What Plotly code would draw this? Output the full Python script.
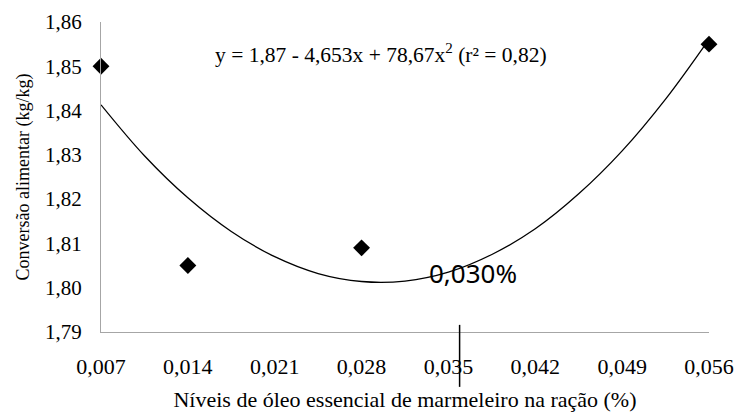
import plotly.graph_objects as go

# Observed means
x_levels = [0.007, 0.014, 0.028, 0.056]
y_means = [1.850, 1.805, 1.809, 1.855]

# Fitted trend curve
curve_x = [0.007, 0.0105, 0.014, 0.0175, 0.021, 0.0245, 0.028, 0.0315,
           0.035, 0.0385, 0.042, 0.0455, 0.049, 0.0525, 0.056]
curve_y = [1.8413, 1.8298, 1.8203, 1.8127, 1.8070, 1.8032, 1.8014, 1.8015,
           1.8035, 1.8075, 1.8133, 1.8212, 1.8309, 1.8426, 1.8561]

x_ticks = [0.007, 0.014, 0.021, 0.028, 0.035, 0.042, 0.049, 0.056]
x_tick_labels = ["0,007", "0,014", "0,021", "0,028", "0,035", "0,042", "0,049", "0,056"]
y_ticks = [1.79, 1.80, 1.81, 1.82, 1.83, 1.84, 1.85, 1.86]
y_tick_labels = ["1,79", "1,80", "1,81", "1,82", "1,83", "1,84", "1,85", "1,86"]

equation = "y = 1,87 - 4,653x + 78,67x<sup>2</sup> (r² = 0,82)"
optimum_label = "0,030%"

serif = "Liberation Serif"

fig = go.Figure()
fig.add_trace(go.Scatter(x=curve_x, y=curve_y, mode="lines",
                         line=dict(color="black", width=1.3, shape="spline"),
                         hoverinfo="skip", showlegend=False))
fig.add_trace(go.Scatter(x=x_levels, y=y_means, mode="markers",
                         marker=dict(symbol="diamond", size=13, color="black"),
                         cliponaxis=False, showlegend=False))

fig.add_annotation(x=0.0296, y=1.8530, xref="x", yref="y", text=equation,
                   showarrow=False, font=dict(family=serif, size=21.5, color="black"))
fig.add_annotation(x=0.0370, y=1.8033, xref="x", yref="y", text=optimum_label,
                   showarrow=False, font=dict(family="Noto Sans", size=26, color="black"))

fig.add_shape(type="line", xref="x", yref="paper", x0=0.0359, x1=0.0359,
              y0=-0.177, y1=0.023, line=dict(color="black", width=1.5))

fig.update_layout(
    template="none",
    width=736, height=415,
    margin=dict(l=101, r=27, t=22, b=83, autoexpand=False),
    plot_bgcolor="white", paper_bgcolor="white",
    font=dict(family=serif, size=22, color="black"),
    xaxis=dict(range=[0.007, 0.056], tickvals=x_ticks, ticktext=x_tick_labels,
               automargin=False,
               showgrid=False, zeroline=False, showline=True, linecolor="#a6a6a6",
               linewidth=1.3, ticks="", ticklen=0, ticklabelstandoff=14,
               tickfont=dict(family=serif, size=22, color="black"),
               title=dict(text="Níveis de óleo essencial de marmeleiro na ração (%)",
                          font=dict(family=serif, size=22, color="black"), standoff=14)),
    yaxis=dict(range=[1.79, 1.86], tickvals=y_ticks, ticktext=y_tick_labels,
               automargin=False,
               showgrid=False, zeroline=False, showline=True, linecolor="#a6a6a6",
               linewidth=1.3, ticks="", ticklen=0, ticklabelstandoff=14,
               tickfont=dict(family=serif, size=21, color="black"),
               title=dict(text="Conversão alimentar (kg/kg)",
                          font=dict(family=serif, size=18, color="black"), standoff=10)),
)

fig.write_html("out.html", config={"displayModeBar": False},
               post_script="document.body.style.margin='0';document.body.style.overflow='hidden';")
